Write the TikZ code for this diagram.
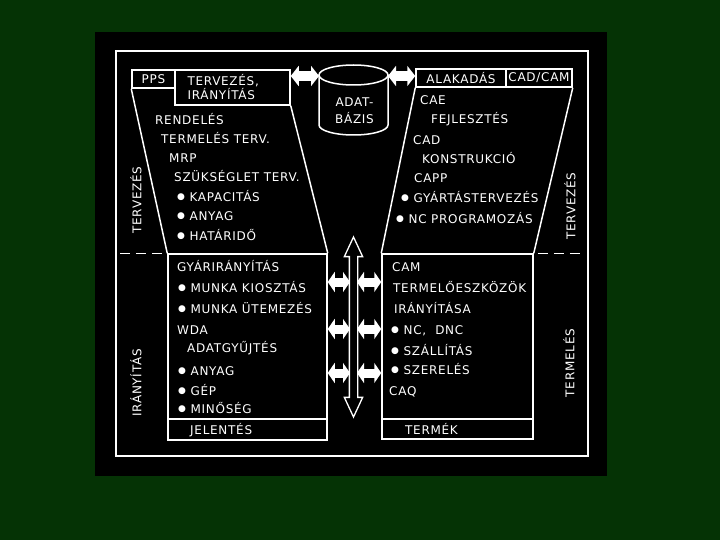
\documentclass[tikz,border=0pt]{standalone}
\usepackage{fontspec}
\usetikzlibrary{arrows.meta,positioning,calc,shapes.arrows}
\newfontfamily\cimfont[LetterSpace=6]{DejaVu Sans}
\definecolor{board}{HTML}{053305}
\newcommand{\bul}{\raisebox{1.3pt}{\fontsize{9}{9}\selectfont ●}\ }
\tikzset{wl/.style={draw=white,line width=1.5pt}, hbox/.style={wl,text=white,font=\cimfont\fontsize{12}{14}\selectfont,inner sep=0pt}, txt/.style={anchor=west,text=white,font=\cimfont\fontsize{12}{14}\selectfont,inner sep=0pt,text height=8.5pt,text depth=0pt}, side/.style={txt,anchor=center,rotate=90}, blk/.style={{Triangle[length=7pt,width=20pt]}-{Triangle[length=7pt,width=20pt]},line width=9pt,draw=white}, bigblk/.style={blk,{Triangle[length=8pt,width=20pt]}-{Triangle[length=8pt,width=20pt]},line width=10pt}, dsh/.style={wl,dash pattern=on 10pt off 6pt}}

\begin{document}
\begin{tikzpicture}[x=1pt,y=-1pt]
\fill[board] (0,0) rectangle (720,540);
\fill[black] (95,32) rectangle (607,476);
\useasboundingbox (0,0) rectangle (720,540);
% frame and boxes
\node[wl,minimum width=472pt,minimum height=405pt] (frame) at (352,253.5) {};
\node[hbox,minimum width=43pt,minimum height=18pt] (pps) at (153.5,79) {PPS};
\node[hbox,minimum height=35pt,text width=90pt,inner xsep=12.5pt,align=left] (tir) at (232.5,87.5) {TERVEZÉS,\\IRÁNYÍTÁS};
\node[hbox,minimum width=90pt,minimum height=18pt] (alak) at (461,78) {ALAKADÁS};
\node[hbox,minimum width=66pt,minimum height=18pt] (cadcam) at (539,78) {CAD/CAM};
\node[wl,minimum width=159pt,minimum height=186pt] (lo) at (247.5,347) {};
\node[wl,minimum width=151pt,minimum height=185pt] (ro) at (457.5,346.5) {};
\node[wl,anchor=south,minimum width=159pt,minimum height=21pt] (jel) at (lo.south) {};
\node[wl,anchor=south,minimum width=151pt,minimum height=20pt] (term) at (ro.south) {};
\draw[wl] (pps.south west) -- (lo.north west);
\draw[wl] (tir.south east) -- (lo.north east);
\draw[wl] (alak.south west) -- (ro.north west);
\draw[wl] (cadcam.south east) -- (ro.north east);
\draw[dsh,shorten <=5pt,shorten >=5pt] (frame.west |- lo.north) -- (lo.north west);
\draw[dsh,shorten <=4pt,shorten >=9pt] (ro.north east) -- (frame.east |- ro.north);
% database
\draw[wl] (319,75) -- (319,125) arc[start angle=180,end angle=0,x radius=34.5,y radius=10] -- (388,75);
\draw[wl] (353.5,75) ellipse[x radius=34.5,y radius=10];
\node[hbox,draw=none,align=center,font=\cimfont\fontsize{12}{17}\selectfont] (db) at (354.5,111) {ADAT-\\BÁZIS};
\coordinate (dbl) at (319,76);
\coordinate (dbr) at (388,76);
\draw[bigblk] (tir.east |- dbl) -- (dbl);
\draw[bigblk] (dbr) -- (alak.west |- dbr);
% vertical bus
\node[double arrow,draw=white,line width=1.3pt,fill=black,rotate=90,minimum height=180pt,inner xsep=0pt,inner ysep=3.5pt,double arrow head extend=5pt,double arrow tip angle=50] (bus) at (353.5,327) {};
\foreach \y in {282,329,373}{
  \draw[blk,shorten >=3.5pt] (lo.east |- 0,\y) -- (bus.center |- 0,\y);
  \draw[blk,shorten <=3.5pt] (bus.center |- 0,\y) -- (ro.west |- 0,\y);
}
% planning, left
\node[txt] (rend) at (155,120) {RENDELÉS};
\node[txt] (tterv) at (161,139) {TERMELÉS TERV.};
\node[txt] (mrp) at (169,158) {MRP};
\node[txt] (szuk) at (174,177) {SZÜKSÉGLET TERV.};
\node[txt] (kap) at (177,197) {\bul KAPACITÁS};
\node[txt] (any1) at (177,216) {\bul ANYAG};
\node[txt] (hat) at (177,236) {\bul HATÁRIDŐ};
% planning, right
\node[txt] (cae) at (420,100) {CAE};
\node[txt] (fejl) at (431,119) {FEJLESZTÉS};
\node[txt] (cad) at (413,140) {CAD};
\node[txt] (konst) at (422,159) {KONSTRUKCIÓ};
\node[txt] (capp) at (414,178) {CAPP};
\node[txt] (gyt) at (401,198) {\bul GYÁRTÁSTERVEZÉS};
\node[txt] (ncp) at (396,219) {\bul NC PROGRAMOZÁS};
% control, left
\node[txt] (gyi) at (177,267) {GYÁRIRÁNYÍTÁS};
\node[txt] (mk) at (178,288) {\bul MUNKA KIOSZTÁS};
\node[txt] (mu) at (178,309) {\bul MUNKA ÜTEMEZÉS};
\node[txt] (wda) at (177,330) {WDA};
\node[txt] (agy) at (187,348) {ADATGYŰJTÉS};
\node[txt] (any2) at (178,371) {\bul ANYAG};
\node[txt] (gep) at (178,391) {\bul GÉP};
\node[txt] (min) at (178,409) {\bul MINŐSÉG};
\node[txt] (jelt) at (190,430) {JELENTÉS};
% production, right
\node[txt] (cam) at (392,267) {CAM};
\node[txt] (tesz) at (393,288) {TERMELŐESZKÖZÖK};
\node[txt] (iras) at (394,309) {IRÁNYÍTÁSA};
\node[txt] (dnc) at (391,330) {\bul NC,\ \ DNC};
\node[txt] (szal) at (391,351) {\bul SZÁLLÍTÁS};
\node[txt] (szer) at (391,370) {\bul SZERELÉS};
\node[txt] (caq) at (389,391) {CAQ};
\node[txt] (termt) at (405,430) {TERMÉK};
% side labels
\node[side] (tl) at (137,200) {TERVEZÉS};
\node[side] (il) at (137,383) {IRÁNYÍTÁS};
\node[side] (tr) at (571,206) {TERVEZÉS};
\node[side] (pr) at (570,363) {TERMELÉS};
\end{tikzpicture}
\end{document}
